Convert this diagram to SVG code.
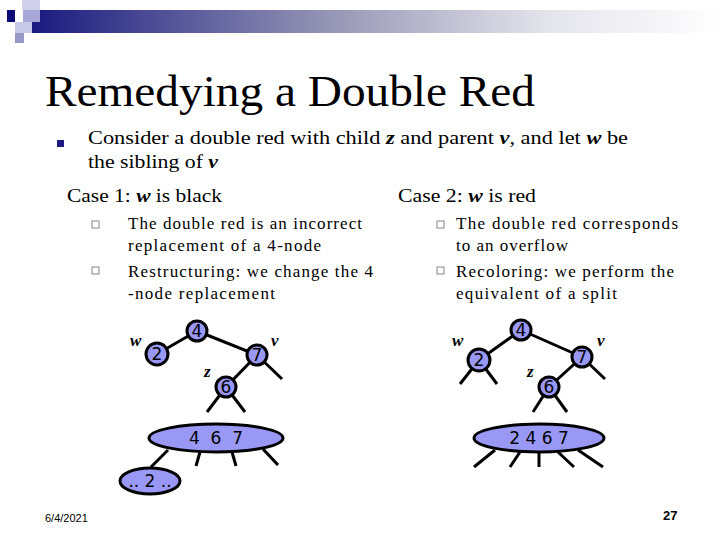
<svg xmlns="http://www.w3.org/2000/svg" width="720" height="540" viewBox="0 0 720 540">
<defs>
<linearGradient id="g" x1="0" x2="1" y1="0" y2="0">
<stop offset="0" stop-color="#1a1a80"/><stop offset="0.45" stop-color="#9a9ab8"/><stop offset="0.75" stop-color="#e4e4ec"/><stop offset="1" stop-color="#ffffff"/>
</linearGradient>
<style>
.s{font-family:"Liberation Serif",serif;fill:#000}
.n circle,.n ellipse{fill:#9999f5;stroke:#000;stroke-width:3}
.n text{font-family:"DejaVu Sans",sans-serif;font-size:17px;text-anchor:middle;fill:#000}
.e line{stroke:#000;stroke-width:3}
.lbl{font-family:"Liberation Serif",serif;font-style:italic;font-weight:bold;font-size:17px}
.sq{fill:none;stroke:#888;stroke-width:1}
</style>
</defs>
<rect width="720" height="540" fill="#fff"/>
<rect x="32" y="10" width="688" height="23" fill="url(#g)"/>
<rect x="22" y="0" width="18" height="10" fill="#d0d0ec"/>
<rect x="7" y="10" width="8" height="12" fill="#0a0a78"/>
<rect x="23" y="10" width="17" height="12" fill="#a8a8d8"/>
<rect x="15" y="22" width="17" height="11" fill="#c8c8e8"/>
<rect x="15" y="33" width="9" height="10" fill="#9898c8"/>
<text class="s" x="45" y="106" font-size="44" textLength="490" lengthAdjust="spacingAndGlyphs">Remedying a Double Red</text>
<rect x="57" y="140" width="7" height="7" fill="#1a1a80"/>
<text class="s" x="88" y="144" font-size="19" textLength="540" lengthAdjust="spacingAndGlyphs">Consider a double red with child <tspan font-weight="bold" font-style="italic">z</tspan> and parent <tspan font-weight="bold" font-style="italic">v</tspan>, and let <tspan font-weight="bold" font-style="italic">w</tspan> be</text>
<text class="s" x="88" y="168" font-size="19" textLength="130" lengthAdjust="spacingAndGlyphs">the sibling of <tspan font-weight="bold" font-style="italic">v</tspan></text>
<text class="s" x="67" y="202" font-size="19" textLength="155" lengthAdjust="spacingAndGlyphs">Case 1: <tspan font-weight="bold" font-style="italic">w</tspan> is black</text>
<text class="s" x="398" y="202" font-size="19" textLength="138" lengthAdjust="spacingAndGlyphs">Case 2: <tspan font-weight="bold" font-style="italic">w</tspan> is red</text>
<rect class="sq" x="92" y="221" width="7" height="7"/>
<rect class="sq" x="92" y="267" width="7" height="7"/>
<rect class="sq" x="437" y="221" width="7" height="7"/>
<rect class="sq" x="437" y="267" width="7" height="7"/>
<g class="s" font-size="17" lengthAdjust="spacingAndGlyphs">
<text x="128" y="229" textLength="234">The double red is an incorrect</text>
<text x="128" y="251" textLength="193">replacement of a 4-node</text>
<text x="128" y="277" textLength="245">Restructuring: we change the 4</text>
<text x="128" y="299" textLength="147">-node replacement</text>
<text x="456" y="229" textLength="222">The double red corresponds</text>
<text x="456" y="251" textLength="112">to an overflow</text>
<text x="456" y="277" textLength="218">Recoloring: we perform the</text>
<text x="456" y="299" textLength="161">equivalent of a split</text>
</g>
<g id="connectors" class="e">
<line x1="197" y1="331" x2="157" y2="354"/><line x1="197" y1="331" x2="257" y2="355"/>
<line x1="257" y1="355" x2="226" y2="387"/><line x1="257" y1="355" x2="282" y2="379"/>
<line x1="226" y1="387" x2="207" y2="412"/><line x1="226" y1="387" x2="245" y2="412"/>
<line x1="168" y1="450" x2="151" y2="467"/><line x1="200" y1="452" x2="196" y2="466"/>
<line x1="232" y1="452" x2="236" y2="466"/><line x1="263" y1="449" x2="278" y2="465"/>
<line x1="521" y1="330" x2="479" y2="360"/><line x1="521" y1="330" x2="582" y2="357"/>
<line x1="479" y1="360" x2="460" y2="384"/><line x1="479" y1="360" x2="497" y2="384"/>
<line x1="582" y1="357" x2="549" y2="387"/><line x1="582" y1="357" x2="605" y2="379"/>
<line x1="549" y1="387" x2="533" y2="412"/><line x1="549" y1="387" x2="567" y2="412"/>
<line x1="495" y1="450" x2="474" y2="467"/><line x1="520" y1="452" x2="510" y2="467"/>
<line x1="539" y1="452" x2="539" y2="467"/><line x1="558" y1="452" x2="574" y2="467"/>
<line x1="578" y1="450" x2="603" y2="467"/>
</g>
<g id="L4" class="n"><circle cx="197" cy="331" r="10"/><text x="197" y="337">4</text></g>
<g id="L2" class="n"><circle cx="157" cy="354" r="11"/><text x="157" y="360">2</text></g>
<g id="L7" class="n"><circle cx="257" cy="355" r="10"/><text x="257" y="361">7</text></g>
<g id="L6" class="n"><circle cx="226" cy="387" r="10"/><text x="226" y="393">6</text></g>
<g id="L467" class="n"><ellipse cx="216" cy="438" rx="67" ry="14"/><text x="216" y="444" xml:space="preserve">4  6  7</text></g>
<g id="L2b" class="n"><ellipse cx="150" cy="481" rx="30" ry="13"/><text x="150" y="487">.. 2 ..</text></g>
<g id="R4" class="n"><circle cx="521" cy="330" r="10"/><text x="521" y="336">4</text></g>
<g id="R2" class="n"><circle cx="479" cy="360" r="11"/><text x="479" y="366">2</text></g>
<g id="R7" class="n"><circle cx="582" cy="357" r="10"/><text x="582" y="363">7</text></g>
<g id="R6" class="n"><circle cx="549" cy="387" r="10"/><text x="549" y="393">6</text></g>
<g id="R2467" class="n"><ellipse cx="539" cy="438" rx="65" ry="14"/><text x="539" y="444">2 4 6 7</text></g>
<text class="lbl" x="130" y="346">w</text>
<text class="lbl" x="271" y="346">v</text>
<text class="lbl" x="204" y="377">z</text>
<text class="lbl" x="452" y="346">w</text>
<text class="lbl" x="597" y="346">v</text>
<text class="lbl" x="527" y="377">z</text>
<text x="45" y="522" font-family="Liberation Sans,sans-serif" font-size="11">6/4/2021</text>
<text x="663" y="520" font-family="Liberation Sans,sans-serif" font-size="13" font-weight="bold">27</text>
</svg>
